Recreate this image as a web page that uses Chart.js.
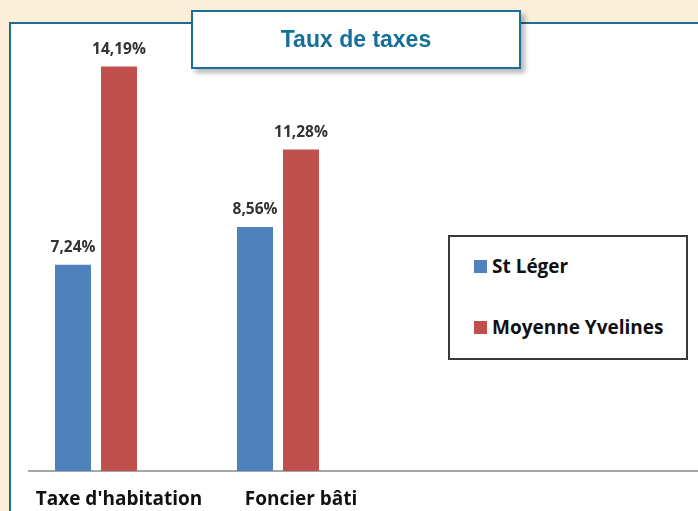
<!DOCTYPE html>
<html>
<head>
<meta charset="utf-8">
<script src="https://cdn.jsdelivr.net/npm/chart.js@4"></script>
<style>
  body { margin: 0; width: 698px; height: 511px; overflow: hidden; background: #fcefda; position: relative; }
  #panel { position: absolute; left: 9px; top: 22px; width: 760px; height: 560px; border: 2px solid #1d6c96; background: #fff; }
  #wrap { position: absolute; left: 0; top: 0; width: 698px; height: 511px; }
  #title { position: absolute; left: 191px; top: 10px; width: 326px; height: 55px; border: 2px solid #16709b; background: #fff;
    box-shadow: 4px 4px 5px rgba(0,0,0,0.28); font: bold 23px "Liberation Sans", Arial, sans-serif; color: #146f9b;
    display: flex; align-items: center; justify-content: center; z-index: 2; }
  #legend { position: absolute; left: 448px; top: 235px; width: 236px; height: 121px; border: 2px solid #3a3a3a; background: #fff; z-index: 2; }
  .item { position: absolute; left: 24px; display: flex; align-items: center; font: bold 19px "Open Sans", sans-serif; color: #111; }
  .item span.sw { width: 13px; height: 13px; margin-right: 5px; display: inline-block; }
</style>
</head>
<body>
<div id="panel"></div>
<div id="title">Taux de taxes</div>
<div id="wrap"><canvas id="chart" width="698" height="511"></canvas></div>
<div id="legend"></div>
<script>
const categories = ["Taxe d'habitation", "Foncier bâti"];
const seriesNames = ["St Léger", "Moyenne Yvelines"];
const stLeger = [7.24, 8.56];
const moyenneYvelines = [14.19, 11.28];
const seriesColors = ["#4f81bd", "#c0504d"];

const fmt = (v) => v.toFixed(2).replace(".", ",") + "%";

// value labels above each bar
const valueLabels = {
  id: "valueLabels",
  afterDatasetsDraw(chart) {
    const ctx = chart.ctx;
    ctx.save();
    ctx.font = "bold 15.5px 'Open Sans', sans-serif";
    ctx.fillStyle = "#333";
    ctx.textAlign = "center";
    ctx.textBaseline = "middle";
    chart.data.datasets.forEach((ds, i) => {
      chart.getDatasetMeta(i).data.forEach((bar, j) => {
        ctx.fillText(fmt(ds.data[j]), bar.x, bar.y - 17);
      });
    });
    ctx.restore();
  },
};

// grey baseline running to the right edge
const baseLine = {
  id: "baseLine",
  beforeDatasetsDraw(chart) {
    const ctx = chart.ctx;
    const y = chart.scales.y.getPixelForValue(0);
    ctx.save();
    ctx.strokeStyle = "#a6a6a6";
    ctx.lineWidth = 2;
    ctx.beginPath();
    ctx.moveTo(28, y);
    ctx.lineTo(chart.width, y);
    ctx.stroke();
    ctx.restore();
  },
};

const chart = new Chart(document.getElementById("chart"), {
  type: "bar",
  data: {
    labels: categories,
    datasets: [
      { label: seriesNames[0], data: stLeger, backgroundColor: seriesColors[0] },
      { label: seriesNames[1], data: moyenneYvelines, backgroundColor: seriesColors[1] },
    ],
  },
  options: {
    responsive: false,
    animation: false,
    layout: { padding: { left: 5, right: 329, top: 15, bottom: 0 } },
    datasets: { bar: { categoryPercentage: 92 / 182, barPercentage: 36 / 46 } },
    scales: {
      x: {
        grid: { display: false, drawTicks: false },
        border: { display: false },
        ticks: { font: { family: "Open Sans", weight: "bold", size: 19 }, color: "#111", padding: 17, labelOffset: 23 },
        afterFit: (s) => { s.height = 40; s.paddingLeft = 0; s.paddingRight = 0; },
      },
      y: { display: false, min: 0, max: 16 },
    },
    plugins: { legend: { display: false }, tooltip: { enabled: false } },
  },
  plugins: [valueLabels, baseLine],
});

const legend = document.getElementById("legend");
seriesNames.forEach((name, i) => {
  const item = document.createElement("div");
  item.className = "item";
  item.style.top = (i === 0 ? 16 : 77) + "px";
  const sw = document.createElement("span");
  sw.className = "sw";
  sw.style.background = seriesColors[i];
  item.appendChild(sw);
  item.appendChild(document.createTextNode(name));
  legend.appendChild(item);
});
</script>
</body>
</html>
